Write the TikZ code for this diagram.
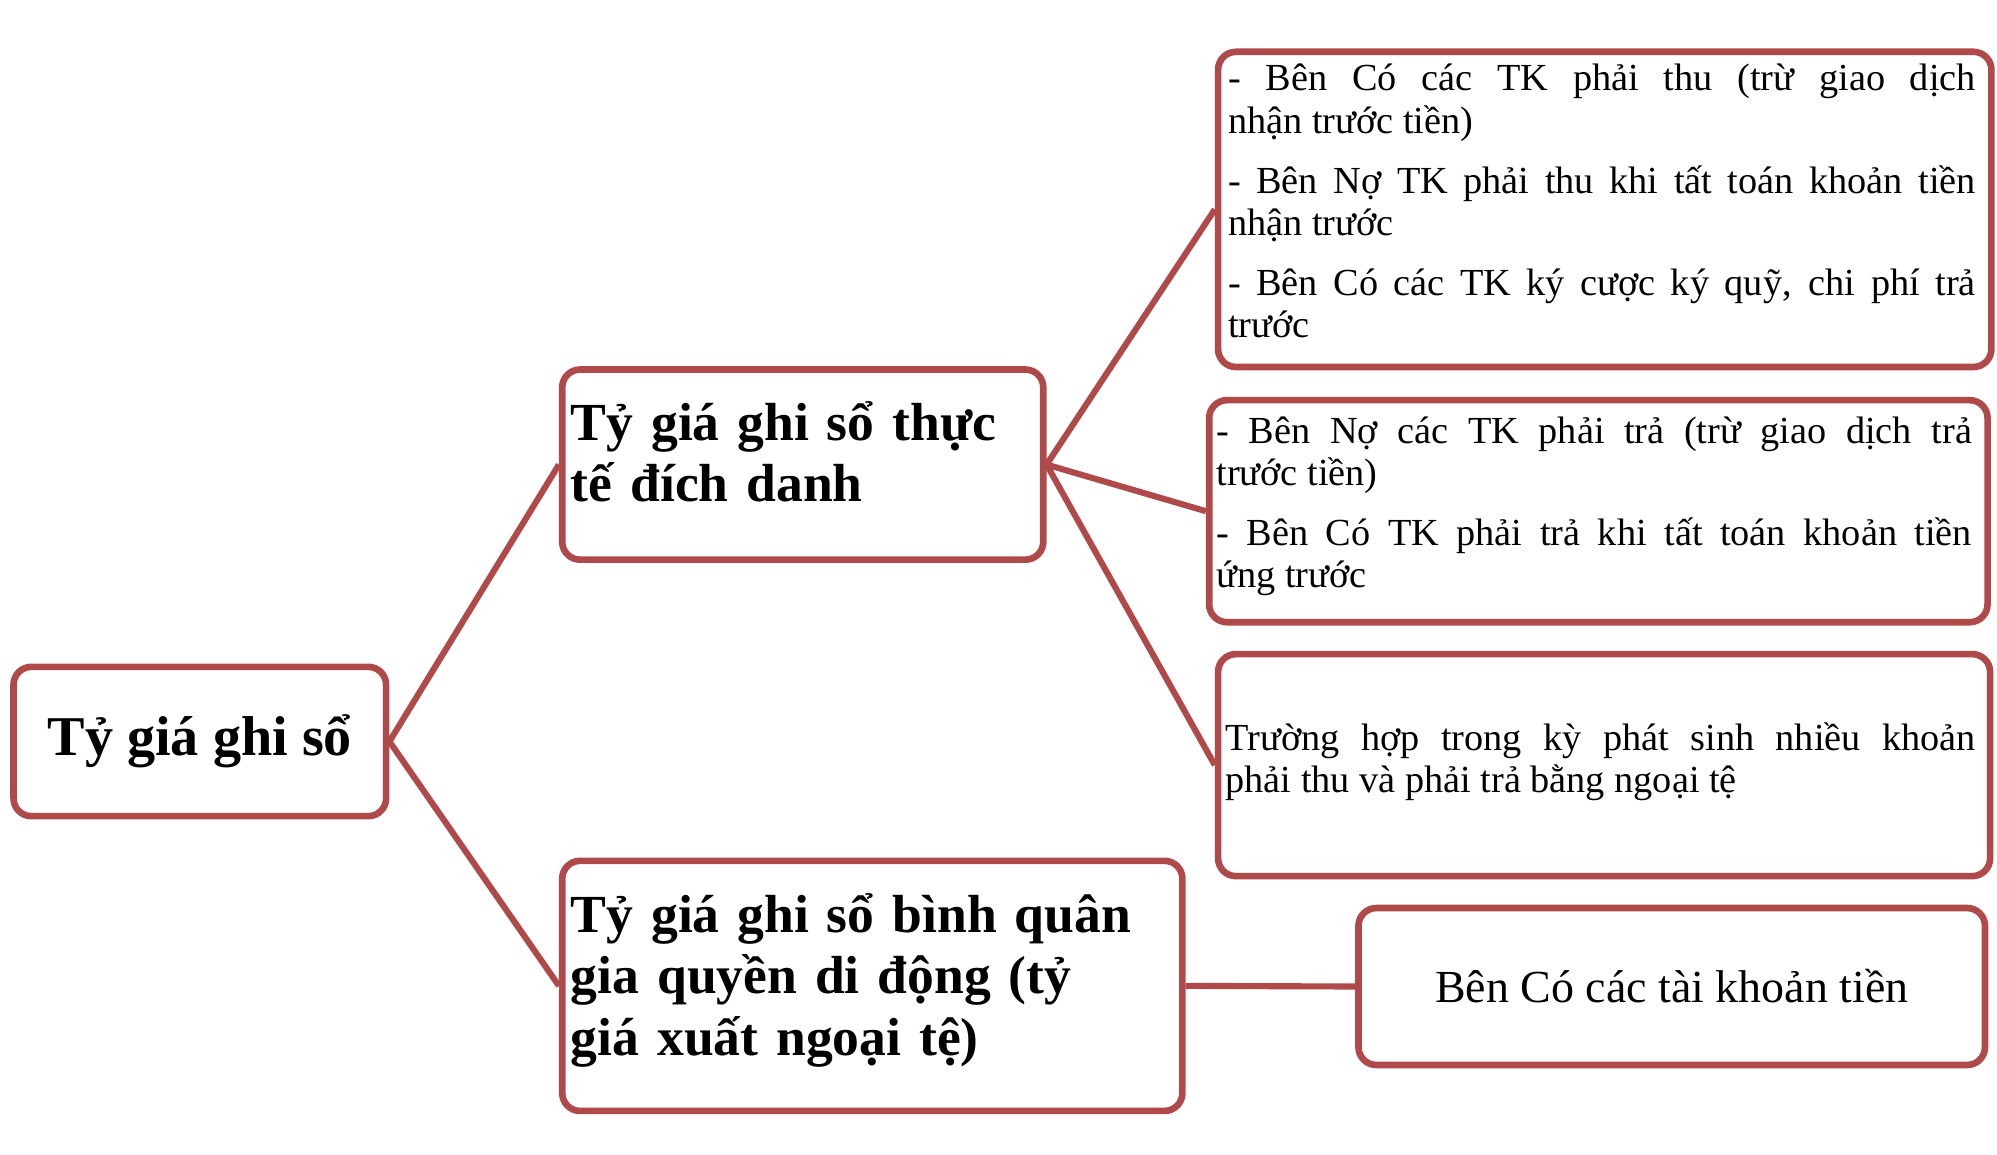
\documentclass[tikz,border=0pt]{standalone}
\usepackage{fontspec}
\setmainfont{Liberation Serif}
\definecolor{br}{HTML}{B04A4A}
\tikzset{box/.style={draw=br,line width=2.6pt,rounded corners=7pt,fill=white,anchor=north west,inner sep=0pt},
 ln/.style={draw=br,line width=2.4pt},
 big/.style={font=\fontsize{21}{24}\selectfont\bfseries,align=left,inner sep=0pt},
 small/.style={font=\fontsize{15}{16.5}\selectfont,align=justify,inner sep=0pt}}
\begin{document}
\begin{tikzpicture}[x=0.5pt,y=-0.5pt]
\useasboundingbox (0,0) rectangle (1565,905);
\node[box,minimum width=146pt,minimum height=58.5pt] (root) at (8,520) {};
\node[big,font=\fontsize{22}{24}\selectfont\bfseries] at (root.center) {Tỷ giá ghi sổ};
\node[box,minimum width=188.5pt,minimum height=74.5pt] (m1) at (438,287) {};
\node[big,anchor=north west,text width=185pt] at (447,314) {Tỷ giá ghi sổ thực\\tế đích danh};
\node[box,minimum width=243pt,minimum height=98pt] (m2) at (438,672) {};
\node[big,anchor=north west,text width=240pt] at (447,700) {Tỷ giá ghi sổ bình quân\\gia quyền di động (tỷ\\giá xuất ngoại tệ)};
\node[box,minimum width=303pt,minimum height=123.5pt] (r1) at (952,38) {};
\node[small,anchor=north west,text width=293pt] at (962,50) {- Bên Có các TK phải thu (trừ giao dịch\linebreak nhận trước tiền)\\[7pt]
- Bên Nợ TK phải thu khi tất toán khoản tiền\linebreak nhận trước\\[7pt]
- Bên Có các TK ký cược ký quỹ, chi phí trả\linebreak trước};
\node[box,minimum width=305pt,minimum height=87pt] (r2) at (945,311) {};
\node[small,anchor=north west,text width=296pt] at (953,326) {- Bên Nợ các TK phải trả (trừ giao dịch trả\linebreak trước tiền)\\[7pt]
- Bên Có TK phải trả khi tất toán khoản tiền\linebreak ứng trước};
\node[box,minimum width=302.5pt,minimum height=87pt] (r3) at (952,510) {};
\node[small,anchor=north west,text width=294pt] at (960,566) {Trường hợp trong kỳ phát sinh nhiều khoản\linebreak phải thu và phải trả bằng ngoại tệ};
\node[box,minimum width=245.5pt,minimum height=61.5pt] (r4) at (1062,709) {};
\node[font=\fontsize{18}{20}\selectfont] at (r4.center) {Bên Có các tài khoản tiền};
\draw[ln] (root.east) -- (m1.west);
\draw[ln] (root.east) -- (m2.west);
\draw[ln] (m1.east) -- (r1.west);
\draw[ln] (m1.east) -- (r2.west);
\draw[ln] (m1.east) -- (r3.west);
\draw[ln] (m2.east) -- (r4.west);
\end{tikzpicture}
\end{document}
